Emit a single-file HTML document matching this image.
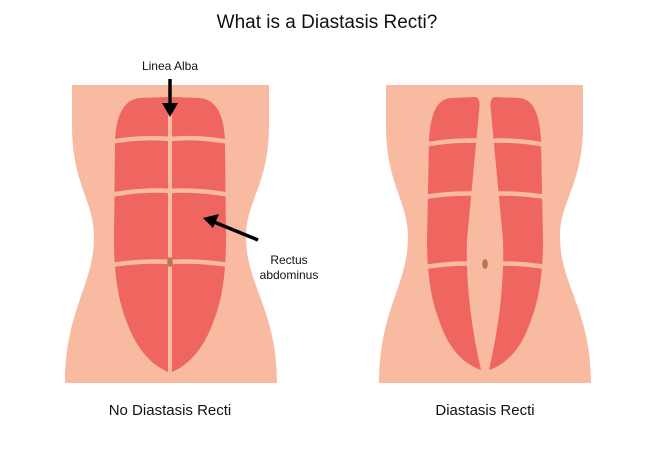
<!DOCTYPE html>
<html><head><style>body{margin:0;background:#fff}svg{display:block}</style></head>
<body>
<svg width="655" height="468" viewBox="0 0 655 468" xmlns="http://www.w3.org/2000/svg" font-family="Liberation Sans, sans-serif">
<text x="327" y="28" font-size="19" text-anchor="middle" fill="#111">What is a Diastasis Recti?</text>
<defs>
<path id="torso" d="M72,85 L269,85 L269,125 C269,185 246,200 246,237 C246,285 277,310 277,383 L65,383 C65,310 94,285 94,237 C94,200 72,185 72,125 Z"/>
</defs>
<use href="#torso" fill="#f8bba1"/>
<use href="#torso" fill="#f8bba1" transform="translate(314,0)"/>
<g fill="#ef6660">
<path d="M168,97 L168,372 Q140,360 126,320 Q114,290 114,240 L115,140 Q117,100 140,98 Z"/>
<path d="M172,97 L172,372 Q200,360 214,320 Q226,290 226,240 L225,140 Q223,100 200,98 Z"/>
<path d="M476,97 Q481,99 479,112 L467,240 Q465,300 481,370 Q452,360 439,320 Q427,290 427,240 L429,140 Q431,100 450,98 Z"/>
<path d="M494,97 Q489,99 491,112 L503,240 Q505,300 489,370 Q518,360 531,320 Q543,290 543,240 L541,140 Q539,100 520,98 Z"/>
</g>
<g stroke="#f8bba1" stroke-width="4.5" fill="none">
<path d="M105,143 Q140,136 170,139 Q200,136 235,143"/>
<path d="M105,196 Q140,189 170,191 Q200,189 235,196"/>
<path d="M105,266 Q140,260 170,262 Q200,260 235,266"/>
<path d="M420,146 Q450,139 485,141 Q520,139 550,146"/>
<path d="M420,198 Q450,192 485,194 Q520,192 550,198"/>
<path d="M420,268 Q450,262 485,264 Q520,262 550,268"/>
</g>
<ellipse cx="170" cy="262" rx="2.8" ry="5" fill="#c0714f"/>
<ellipse cx="485" cy="264" rx="2.8" ry="5" fill="#c0714f"/>
<line x1="170" y1="79" x2="170" y2="104" stroke="#000" stroke-width="3.5"/>
<polygon points="162,103 178,103 170,117" fill="#000"/>
<line x1="258" y1="240" x2="214" y2="222" stroke="#000" stroke-width="3.5"/>
<polygon points="203,218 219,214 213,228" fill="#000"/>
<text x="170" y="70" font-size="12" text-anchor="middle" fill="#111">Linea Alba</text>
<text x="289" y="264" font-size="12" text-anchor="middle" fill="#111">Rectus</text>
<text x="289" y="279" font-size="12" text-anchor="middle" fill="#111">abdominus</text>
<text x="170" y="415" font-size="15" text-anchor="middle" fill="#111">No Diastasis Recti</text>
<text x="485" y="415" font-size="15" text-anchor="middle" fill="#111">Diastasis Recti</text>
</svg>
</body></html>
